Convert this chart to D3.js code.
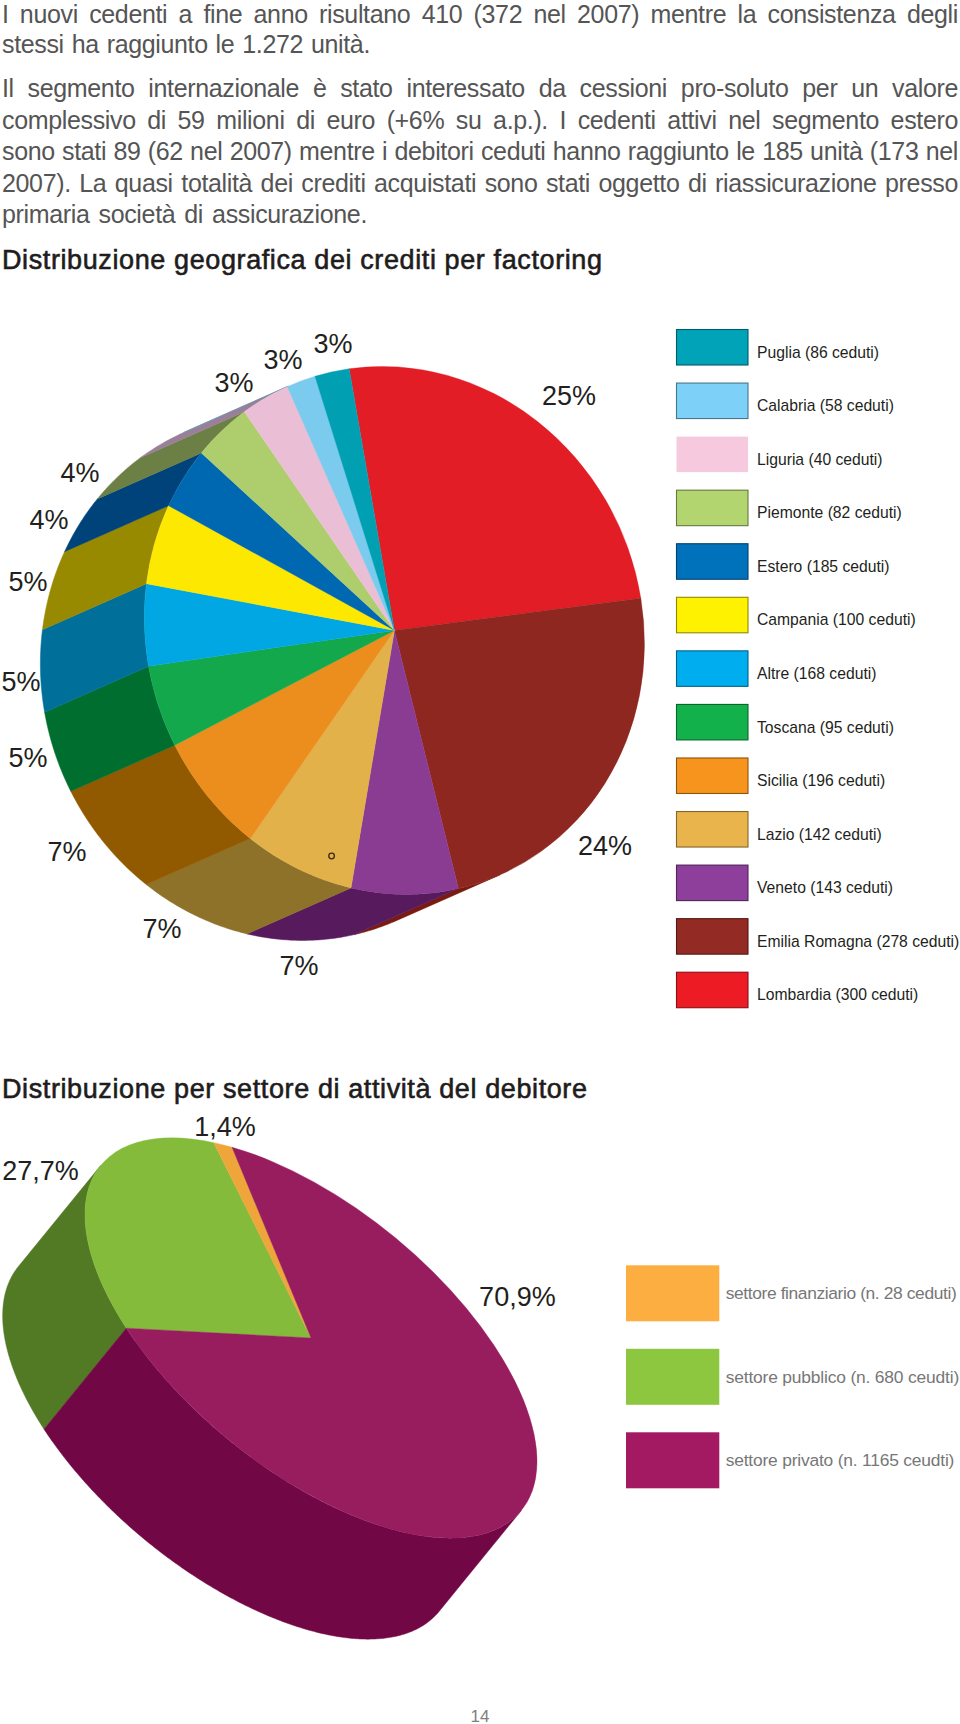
<!DOCTYPE html>
<html>
<head>
<meta charset="utf-8">
<script src="https://cdn.jsdelivr.net/npm/d3@7"></script>
<style>
  html, body { margin: 0; padding: 0; background: #fff; }
  svg { display: block; }
  text { font-family: "Liberation Sans", Arial, sans-serif; }
</style>
</head>
<body>
<div id="chart"></div>
<script>
// text of the page
const bodyLines = [
    "I nuovi cedenti a fine anno risultano 410 (372 nel 2007) mentre la consistenza degli",
    "stessi ha raggiunto le 1.272 unità.",
    "Il segmento internazionale è stato interessato da cessioni pro-soluto per un valore",
    "complessivo di 59 milioni di euro (+6% su a.p.). I cedenti attivi nel segmento estero",
    "sono stati 89 (62 nel 2007) mentre i debitori ceduti hanno raggiunto le 185 unità (173 nel",
    "2007). La quasi totalità dei crediti acquistati sono stati oggetto di riassicurazione presso",
    "primaria società di assicurazione."
];
const headingGeo = "Distribuzione geografica dei crediti per factoring";
const headingSector = "Distribuzione per settore di attività del debitore";
const pageNumber = "14";

// first pie, clockwise from the red slice
const regions = ["Lombardia", "Emilia Romagna", "Veneto", "Lazio", "Sicilia", "Toscana", "Altre",
    "Campania", "Estero", "Piemonte", "Liguria", "Calabria", "Puglia"];
const regionCeduti = [300, 278, 143, 142, 196, 95, 168, 100, 185, 82, 40, 58, 86];
// slice sizes as they are drawn (the printed labels do not add up to 100)
const regionShares = [25.2, 23.6, 6.9, 7.0, 7.3, 5.0, 5.0, 5.0, 3.9, 3.8, 3.2, 1.9, 2.25];
const regionLabels = ["25%", "24%", "7%", "7%", "7%", "5%", "5%", "5%", "4%", "4%", "3%", "3%", "3%"];

// second pie
const sectorShares = [27.7, 1.4, 70.9];
const sectorLabels = ["27,7%", "1,4%", "70,9%"];
const sectorLegend = ["settore finanziario (n. 28 ceduti)", "settore pubblico (n. 680 ceudti)", "settore privato (n. 1165 ceudti)"];

// colours
const regionTop = ["#e21d26", "#8e2720", "#8a3b92", "#e3b14a", "#ec8e1e", "#12a84b", "#00a7e3",
    "#fce800", "#0068b0", "#aecd6c", "#eabfd5", "#7acbee", "#009fb2"];
const regionSide = ["#a8161c", "#7a1a10", "#571a5c", "#8f722a", "#925a00", "#006e2e", "#00709a",
    "#988a00", "#00437a", "#6c8046", "#9a7f98", "#5a97b0", "#00768a"];
const regionSwatch = ["#ed1c24", "#932a24", "#8e3f9b", "#e9b44c", "#f7941d", "#13b14b", "#00aeef",
    "#fff200", "#0072bc", "#b2d56f", "#f6c9de", "#7dd0f7", "#00a3b8"];
const sectorTop = ["#84bb3b", "#eea63a", "#981d5f"];
const sectorSide = ["#527a24", "#b07a20", "#720745"];
const sectorSwatch = ["#fdae40", "#8dc63f", "#a31a62"];

// label anchors on the page, same order as the label arrays
const regionLabelXY = [[569, 405], [605, 855], [299, 975], [162, 938], [67, 861], [28, 767], [21, 691],
    [28, 591], [49, 529], [80, 482], [234, 392], [283, 369], [333, 353]];
const sectorLabelXY = [[40.6, 1180], [225, 1135.5], [517.4, 1306]];
const sectorLegendWidth = [231, 233.5, 228.7];

const svg = d3.select("#chart").append("svg").attr("width", 960).attr("height", 1724);

function drawPie(cfg) {
    const R = 100;
    const phi = (cfg.rotate || 0) * Math.PI / 180;
    const start = cfg.start * Math.PI / 180;
    const pie = d3.pie().sort(null).startAngle(start).endAngle(start + 2 * Math.PI);
    const slices = pie(cfg.values);

    // point on the rim of the top face
    const rim = (al, off) => {
        const x = cfg.a * Math.sin(al), y = -cfg.b * Math.cos(al);
        return [
            cfg.cx + x * Math.cos(phi) - y * Math.sin(phi) + (off ? cfg.depth[0] : 0),
            cfg.cy + x * Math.sin(phi) + y * Math.cos(phi) + (off ? cfg.depth[1] : 0)
        ];
    };

    // which part of the rim faces the extrusion
    const ex = (cfg.depth[0] * Math.cos(phi) + cfg.depth[1] * Math.sin(phi)) / cfg.a;
    const ey = (-cfg.depth[0] * Math.sin(phi) + cfg.depth[1] * Math.cos(phi)) / cfg.b;
    const beta = Math.atan2(ex, -ey);
    const front0 = beta - Math.PI / 2, front1 = beta + Math.PI / 2;

    const line = d3.line();
    const sideG = svg.append("g");
    slices.forEach((s, i) => {
        [-2, 0, 2].forEach(k => {
            const a0 = Math.max(s.startAngle, front0 + k * Math.PI);
            const a1 = Math.min(s.endAngle, front1 + k * Math.PI);
            if (a1 <= a0) return;
            const n = Math.max(2, Math.ceil((a1 - a0) / 0.01));
            const angles = d3.range(n + 1).map(j => a0 + (a1 - a0) * j / n);
            const pts = angles.map(al => rim(al, false))
                .concat(angles.slice().reverse().map(al => rim(al, true)));
            sideG.append("path")
                .attr("d", line(pts) + "Z")
                .attr("fill", cfg.side[i])
                .attr("stroke", cfg.side[i])
                .attr("stroke-width", 0.5);
        });
    });

    const arc = d3.arc().innerRadius(0).outerRadius(R);
    const top = svg.append("g")
        .attr("transform", `translate(${cfg.cx},${cfg.cy}) rotate(${cfg.rotate || 0}) scale(${cfg.a / R},${cfg.b / R})`);
    top.selectAll("path")
        .data(slices)
        .enter().append("path")
        .attr("d", arc)
        .attr("fill", (d, i) => cfg.top[i])
        .attr("stroke", (d, i) => cfg.top[i])
        .attr("stroke-width", 0.4)
        .attr("vector-effect", "non-scaling-stroke");
}

function drawLabels(labels, xy) {
    svg.append("g").selectAll("text")
        .data(labels)
        .enter().append("text")
        .attr("x", (d, i) => xy[i][0])
        .attr("y", (d, i) => xy[i][1])
        .attr("text-anchor", "middle")
        .attr("font-size", 27)
        .attr("fill", "#231f20")
        .text(d => d);
}

// body copy, justified by hand through word spacing
const lineY = [22.7, 53.3, 97.3, 129, 160.3, 192, 223];
const lineEnd = [958, 370, 958, 958, 958, 958, 367];
lineY.forEach((y, i) => {
    const t = svg.append("text")
        .attr("x", 2).attr("y", y)
        .attr("font-size", 25)
        .attr("fill", "#555")
        .attr("letter-spacing", -0.35)
        .text(bodyLines[i]);
    const gaps = bodyLines[i].split(" ").length - 1;
    const extra = (lineEnd[i] - 2 - t.node().getComputedTextLength()) / gaps;
    t.attr("word-spacing", extra);
});

function heading(txt, y, end) {
    svg.append("text")
        .attr("x", 2).attr("y", y)
        .attr("font-size", 27)
        .attr("fill", "#1f1c1d")
        .attr("stroke", "#1f1c1d")
        .attr("stroke-width", 0.6)
        .attr("textLength", end - 2)
        .attr("lengthAdjust", "spacing")
        .text(txt);
}
heading(headingGeo, 268.7, 602);
heading(headingSector, 1098, 587);

// pie 1, the top face is a slightly tilted ellipse
drawPie({
    cx: 394.4, cy: 630.4, a: 266.3, b: 247.6, rotate: 69.2, start: -78.2,
    depth: [-104, 46],
    values: regionShares, top: regionTop, side: regionSide
});
drawLabels(regionLabels, regionLabelXY);

// the small stray ring printed on the Lazio slice
svg.append("circle")
    .attr("cx", 331.6).attr("cy", 856).attr("r", 2.8)
    .attr("fill", "none").attr("stroke", "#3a2a10").attr("stroke-width", 1.3);

// legend 1 runs bottom up compared to the pie order
const order = d3.range(regions.length).reverse();
const y1 = d3.scaleBand().domain(order).range([329, 329 + 53.56 * regions.length]);
const leg1 = svg.append("g").selectAll("g")
    .data(order)
    .enter().append("g")
    .attr("transform", d => `translate(0,${y1(d)})`);
leg1.append("rect")
    .attr("x", 676.5).attr("y", 0.5)
    .attr("width", 71.5).attr("height", 35.5)
    .attr("fill", d => regionSwatch[d])
    .attr("stroke", d => regions[d] === "Liguria" ? "none" : d3.color(regionSwatch[d]).darker(1.6))
    .attr("stroke-width", 1.1);
leg1.append("text")
    .attr("x", 757).attr("y", 28.6)
    .attr("font-size", 15.7)
    .attr("fill", "#231f20")
    .text(d => `${regions[d]} (${regionCeduti[d]} ceduti)`);

// pie 2
drawPie({
    cx: 311, cy: 1338, a: 272, b: 131, rotate: 39.4, start: 213.2,
    depth: [-82.3, 101],
    values: sectorShares, top: sectorTop, side: sectorSide
});
drawLabels(sectorLabels, sectorLabelXY);

// legend 2
const y2 = d3.scaleBand().domain(d3.range(3)).range([1265.3, 1265.3 + 83.5 * 3]);
const leg2 = svg.append("g").selectAll("g")
    .data(d3.range(3))
    .enter().append("g")
    .attr("transform", d => `translate(0,${y2(d)})`);
leg2.append("rect")
    .attr("x", 626).attr("y", 0)
    .attr("width", 93.3).attr("height", 56)
    .attr("fill", d => sectorSwatch[d]);
leg2.append("text")
    .attr("x", 725.7).attr("y", 34)
    .attr("font-size", 17.4)
    .attr("fill", "#777")
    .attr("textLength", d => sectorLegendWidth[d])
    .attr("lengthAdjust", "spacing")
    .text(d => sectorLegend[d]);

svg.append("text")
    .attr("x", 480).attr("y", 1722)
    .attr("text-anchor", "middle")
    .attr("font-size", 17)
    .attr("fill", "#808080")
    .text(pageNumber);
</script>
</body>
</html>
